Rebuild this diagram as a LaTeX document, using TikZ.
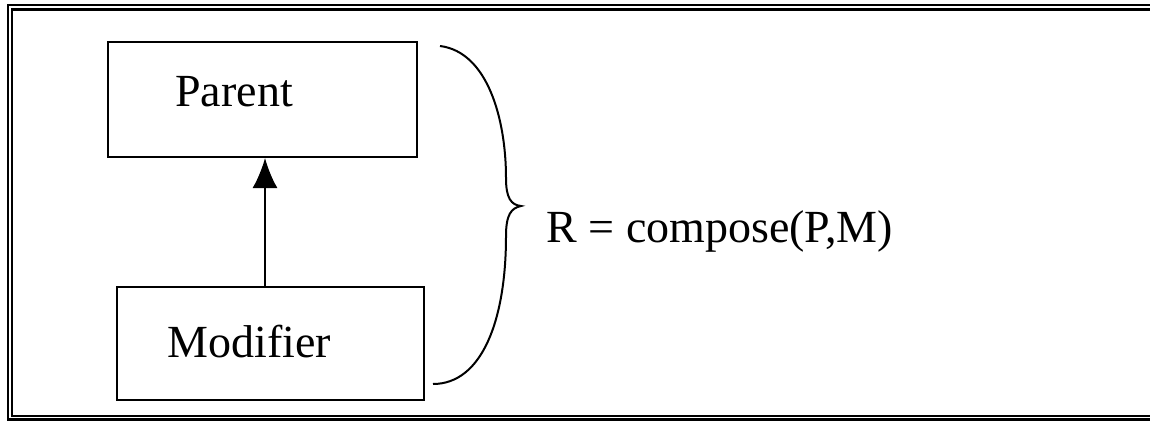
\documentclass[tikz,border=0pt]{standalone}
\usepackage{fontspec}
\setmainfont{Liberation Serif}
\usetikzlibrary{arrows.meta}
\begin{document}
\begin{tikzpicture}[
    x=0.5pt, y=-0.5pt,
    font=\fontsize{23}{27}\selectfont,
    caja/.style={draw, line width=1pt, rectangle, inner sep=0pt},
    marco/.style={line width=1.1pt},
    rotulo/.style={anchor=base west, inner sep=0pt}
  ]
    \useasboundingbox (0,0) rectangle (1150,423);

    % --- MARCO DOBLE (sin lado derecho visible) ---
    \draw[marco] (1160,5) -- (8,5) -- (8,419.5) -- (1160,419.5);
    \draw[marco] (1160,9.5) -- (12,9.5) -- (12,416) -- (1160,416);

    % --- CAJAS ---
    \node[caja, minimum width=309pt*0.5, minimum height=115pt*0.5] (padre) at (262.5,99.5) {};
    \node[caja, minimum width=307pt*0.5, minimum height=113pt*0.5] (modif) at (270.5,343.5) {};
    \node[rotulo] (padretxt) at (175,106) {Parent};
    \node[rotulo] (modiftxt) at (167,357) {Modifier};

    % Herencia
    \draw[line width=1pt, -{Latex[length=15pt, width=12.5pt]}] (modif.north -| 265,0) -- (padre.south -| 265,0);

    % --- LLAVE ---
    \coordinate (llavearr) at (440,46);
    \coordinate (punta) at (521,206);
    \coordinate (llaveab) at (433,384);
    \draw[line width=1pt] (llavearr) .. controls (488,52) and (506,120) .. (506,178)
        .. controls (506,198) and (511,205) .. (punta)
        .. controls (511,208) and (506,215) .. (506,236)
        .. controls (506,320) and (482,384) .. (llaveab);

    \node[rotulo] (compo) at (546,242) {R = compose(P,M)};

  \end{tikzpicture}
\end{document}
